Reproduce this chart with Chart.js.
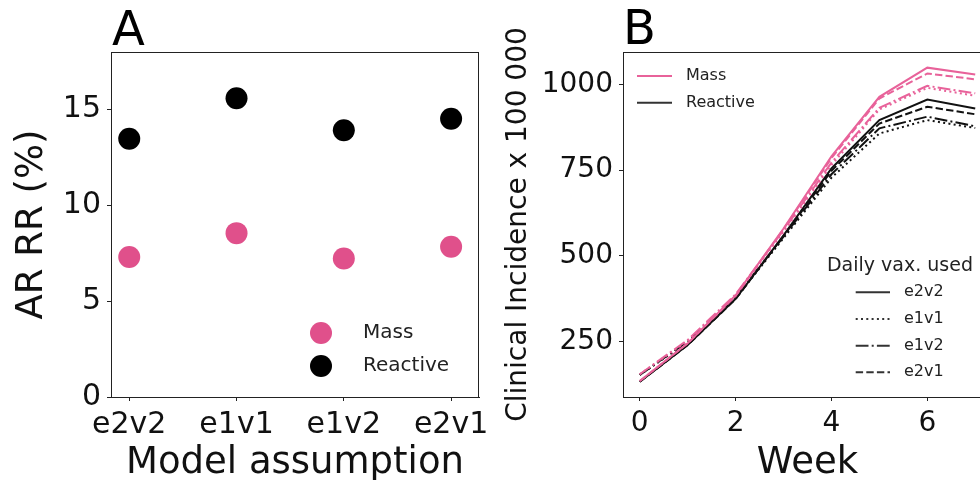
<!DOCTYPE html>
<html><head><meta charset="utf-8">
<script src="https://cdn.jsdelivr.net/npm/chart.js@4"></script>
<style>
html,body{margin:0;padding:0;background:#fff;overflow:hidden;width:980px;height:480px;}
#wa{position:absolute;left:0;top:0;width:490px;height:480px;}
#wb{position:absolute;left:490px;top:0;width:530px;height:480px;}
</style></head><body>
<div id="wa"><canvas id="ca" width="490" height="480"></canvas></div>
<div id="wb"><canvas id="cb" width="530" height="480"></canvas></div>
<script>
// ---- Panel A data ----
const models = ['e2v2', 'e1v1', 'e1v2', 'e2v1'];
const massAR = [7.30, 8.55, 7.23, 7.84];
const reactiveAR = [13.47, 15.59, 13.92, 14.52];
const yTicksA = [0, 5, 10, 15];

// ---- Panel B data ----
const weeks = [0, 1, 2, 3, 4, 5, 6, 7];
const massE2V2 = [135, 245, 385, 580, 790, 964, 1049, 1029];
const massE1V1 = [155, 252, 384, 570, 765, 927, 990, 967];
const massE1V2 = [155, 255, 388, 575, 772, 932, 996, 974];
const massE2V1 = [135, 245, 383, 578, 785, 959, 1032, 1015];
const reactiveE2V2 = [133, 240, 375, 560, 755, 896, 956, 930];
const reactiveE1V1 = [153, 248, 376, 552, 728, 857, 896, 873];
const reactiveE1V2 = [153, 250, 380, 556, 738, 872, 906, 878];
const reactiveE2V1 = [133, 240, 374, 558, 748, 886, 935, 913];
const xTicksB = [0, 2, 4, 6];
const yTicksB = [250, 500, 750, 1000];
const vaxLabels = ['e2v2', 'e1v1', 'e1v2', 'e2v1'];

const FONT = "'DejaVu Sans', sans-serif";
Chart.defaults.font.family = FONT;
Chart.defaults.color = '#111';
const PINK = '#e0508b';
const PINK_L = '#e8629a';
const BLACK_L = '#111';
const AXC = '#222';
const dashes = { e2v2: [], e1v1: [2, 3.3], e1v2: [12.8, 3.2, 2, 3.2], e2v1: [7.4, 3.2] };

function frame(ctx, a) {
  ctx.save();
  ctx.strokeStyle = AXC; ctx.lineWidth = 1;
  ctx.beginPath();
  ctx.moveTo(a.left, a.top + 0.5); ctx.lineTo(a.right, a.top + 0.5);
  ctx.moveTo(a.right - 0.5, a.top); ctx.lineTo(a.right - 0.5, a.bottom);
  ctx.stroke();
  ctx.restore();
}

const axisBase = () => ({
  grid: { drawOnChartArea: false, drawTicks: true, tickLength: 4, color: AXC },
  border: { display: true, color: AXC, width: 1 },
});
function fixSize(prop, val) {
  return s => {
    s[prop] = val;
    s.paddingLeft = 0; s.paddingRight = 0; s.paddingTop = 0; s.paddingBottom = 0;
  };
}

// ---------- Panel A ----------
const plugA = {
  id: 'plugA',
  afterDraw(chart) {
    const ctx = chart.ctx;
    frame(ctx, chart.chartArea);
    ctx.save();
    ctx.fillStyle = '#000';
    ctx.font = '48px ' + FONT;
    ctx.textBaseline = 'alphabetic'; ctx.textAlign = 'left';
    ctx.fillText('A', 112, 45);
    const items = [['Mass', PINK, 333], ['Reactive', '#000', 366]];
    ctx.font = '20px ' + FONT;
    ctx.textBaseline = 'middle';
    items.forEach(([t, c, y]) => {
      ctx.fillStyle = c;
      ctx.beginPath(); ctx.arc(321, y, 11, 0, Math.PI * 2); ctx.fill();
      ctx.fillStyle = '#222';
      ctx.fillText(t, 363, y);
    });
    ctx.restore();
  }
};

new Chart(document.getElementById('ca'), {
  type: 'scatter',
  data: {
    datasets: [
      { label: 'Mass', data: models.map((m, i) => ({ x: i, y: massAR[i] })), backgroundColor: PINK, borderWidth: 0, pointRadius: 11, pointHoverRadius: 11 },
      { label: 'Reactive', data: models.map((m, i) => ({ x: i, y: reactiveAR[i] })), backgroundColor: '#000', borderWidth: 0, pointRadius: 11, pointHoverRadius: 11 }
    ]
  },
  options: {
    responsive: false, animation: false, events: [],
    layout: { padding: { left: 0, right: 11, top: 52, bottom: 0 } },
    plugins: { legend: { display: false }, tooltip: { enabled: false } },
    scales: {
      x: Object.assign(axisBase(), {
        type: 'linear', min: -0.17, max: 3.26,
        afterBuildTicks: s => { s.ticks = models.map((m, i) => ({ value: i })); },
        ticks: { callback: v => models[v], font: { size: 30 }, padding: 6, color: '#111', maxRotation: 0, autoSkip: false },
        title: { display: true, text: 'Model assumption', font: { size: 37 }, padding: { top: 0, bottom: -6 }, color: '#111' },
        afterFit: fixSize('height', 83)
      }),
      y: Object.assign(axisBase(), {
        type: 'linear', min: 0, max: 18,
        afterBuildTicks: s => { s.ticks = yTicksA.map(v => ({ value: v })); },
        ticks: { callback: v => String(v), font: { size: 30 }, padding: 6, color: '#111' },
        title: { display: true, text: 'AR RR (%)', font: { size: 37 }, padding: { top: 10, bottom: 0 }, color: '#111' },
        afterFit: fixSize('width', 111)
      })
    }
  },
  plugins: [plugA]
});

// ---------- Panel B ----------
const seriesB = [
  ['Mass', 'e2v2', massE2V2], ['Mass', 'e1v1', massE1V1], ['Mass', 'e1v2', massE1V2], ['Mass', 'e2v1', massE2V1],
  ['Reactive', 'e2v2', reactiveE2V2], ['Reactive', 'e1v1', reactiveE1V1], ['Reactive', 'e1v2', reactiveE1V2], ['Reactive', 'e2v1', reactiveE2V1]
];

const plugB = {
  id: 'plugB',
  afterDraw(chart) {
    const ctx = chart.ctx;
    frame(ctx, chart.chartArea);
    ctx.save();
    ctx.fillStyle = '#000';
    ctx.font = '48px ' + FONT;
    ctx.textBaseline = 'alphabetic'; ctx.textAlign = 'left';
    ctx.fillText('B', 133, 44);
    ctx.font = '16px ' + FONT;
    ctx.textBaseline = 'middle';
    ctx.lineWidth = 2;
    [['Mass', PINK_L, 76], ['Reactive', '#333', 102.7]].forEach(([t, c, y]) => {
      ctx.strokeStyle = c; ctx.setLineDash([]);
      ctx.beginPath(); ctx.moveTo(147, y); ctx.lineTo(182, y); ctx.stroke();
      ctx.fillStyle = '#222'; ctx.fillText(t, 196, y);
    });
    ctx.font = '19px ' + FONT;
    ctx.textAlign = 'center';
    ctx.fillText('Daily vax. used', 410, 265.7);
    ctx.font = '16px ' + FONT;
    ctx.textAlign = 'left';
    const ys = [292.3, 319, 345.7, 372.3];
    vaxLabels.forEach((v, i) => {
      ctx.strokeStyle = '#333'; ctx.setLineDash(dashes[v]);
      ctx.beginPath(); ctx.moveTo(365.7, ys[i]); ctx.lineTo(400, ys[i]); ctx.stroke();
      ctx.fillStyle = '#222'; ctx.fillText(v, 414, ys[i]);
    });
    ctx.restore();
  }
};

new Chart(document.getElementById('cb'), {
  type: 'line',
  data: {
    datasets: seriesB.map(([grp, vax, vals]) => ({
      label: grp + ' ' + vax,
      data: weeks.map((w, i) => ({ x: w, y: vals[i] })),
      borderColor: grp === 'Mass' ? PINK_L : BLACK_L,
      borderWidth: 2,
      borderDash: dashes[vax],
      borderCapStyle: 'butt',
      pointRadius: 0, pointHoverRadius: 0,
      tension: 0, fill: false
    }))
  },
  options: {
    responsive: false, animation: false, events: [],
    layout: { padding: { left: 0, right: 28, top: 52, bottom: 0 } },
    plugins: { legend: { display: false }, tooltip: { enabled: false } },
    scales: {
      x: Object.assign(axisBase(), {
        type: 'linear', min: -0.35, max: 7.35,
        afterBuildTicks: s => { s.ticks = xTicksB.map(v => ({ value: v })); },
        ticks: { callback: v => String(v), font: { size: 28 }, padding: 6, color: '#111', maxRotation: 0, autoSkip: false },
        title: { display: true, text: 'Week', font: { size: 37 }, padding: { top: 0, bottom: -6 }, color: '#111' },
        afterFit: fixSize('height', 83)
      }),
      y: Object.assign(axisBase(), {
        type: 'linear', min: 88.5, max: 1094.6,
        afterBuildTicks: s => { s.ticks = yTicksB.map(v => ({ value: v })); },
        ticks: { callback: v => String(v), font: { size: 28 }, padding: 6, color: '#111' },
        title: { display: true, text: 'Clinical Incidence x 100 000', font: { size: 28 }, padding: { top: 12, bottom: 0 }, color: '#111' },
        afterFit: fixSize('width', 133)
      })
    }
  },
  plugins: [plugB]
});
</script>
</body></html>
